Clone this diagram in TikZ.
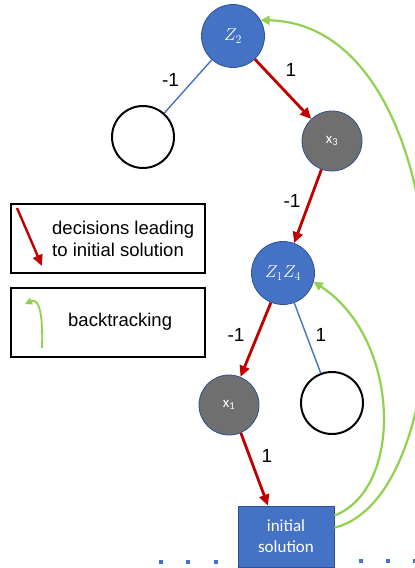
\documentclass[tikz,border=0pt]{standalone}
\usepackage{fontspec}
\setmainfont{Liberation Sans}
\newfontfamily\calib{Carlito}
\usetikzlibrary{arrows.meta,calc}
\definecolor{nblue}{HTML}{4472C4}
\definecolor{nedge}{HTML}{2F528F}
\definecolor{ngray}{HTML}{6F6F6F}
\definecolor{dred}{HTML}{C00000}
\definecolor{lgreen}{HTML}{92D050}
\tikzset{
 bluenode/.style={circle,fill=nblue,draw=nedge,line width=0.8pt,minimum size=63pt,inner sep=0pt,text=white,font=\fontsize{17}{19}\selectfont},
 graynode/.style={circle,fill=ngray,draw=nedge,line width=0.8pt,minimum size=60pt,inner sep=0pt,text=white,font=\calib\fontsize{15}{17}\selectfont},
 emptynode/.style={circle,fill=white,draw=black,line width=2pt,minimum size=62pt,inner sep=0pt},
 redarrow/.style={draw=dred,line width=2.8pt,-{Triangle[length=11pt,width=10pt]}},
 blueline/.style={draw=nblue,line width=1.4pt},
 greenarrow/.style={draw=lgreen,line width=2.2pt,-{Triangle[length=9pt,width=9pt]}},
 elabel/.style={font=\fontsize{19}{22}\selectfont,text=black,inner sep=0pt},
 legendbox/.style={draw=black,line width=2.2pt,fill=white,inner sep=0pt},
 dotsq/.style={fill=nblue,minimum size=4.5pt,inner sep=0pt},
}
\begin{document}
\begin{tikzpicture}[x=1pt,y=-1pt]
\clip (0,0) rectangle (415,568);
\fill[white] (0,0) rectangle (415,568);
% legend
\node[legendbox,minimum width=194pt,minimum height=69pt] (leg1) at (108,238.5) {};
\node[legendbox,minimum width=194pt,minimum height=69pt] (leg2) at (108,322.5) {};
\coordinate (r1) at (17,208);
\coordinate (r2) at (42,266);
\draw[redarrow,line width=2.4pt] (r1) -- (r2);
\node[anchor=west,align=left,font=\fontsize{18.5}{22.5}\selectfont,inner sep=0pt] (legt1) at (52,239) {decisions leading\\to initial solution};
\coordinate (g1) at (42,348);
\coordinate (g2) at (25,304);
\draw[greenarrow,line width=1.8pt,-{Triangle[length=7pt,width=7pt]}] (g1) .. controls (43,318) and (40,297) .. (g2);
\node[anchor=west,font=\fontsize{18.5}{22}\selectfont,inner sep=0pt] (legt2) at (68,322) {backtracking};
% tree nodes
\node[bluenode] (z2) at (233,36) {$Z_2$};
\node[emptynode] (e1) at (143,137) {};
\node[graynode] (x3) at (332,141) {x\textsubscript{3}};
\node[bluenode] (zz) at (283,273) {$Z_1Z_4$};
\node[graynode] (x1) at (229,405) {x\textsubscript{1}};
\node[emptynode] (e2) at (332,403) {};
\node[fill=nblue,draw=nedge,line width=0.8pt,minimum width=96pt,minimum height=61pt,text=white,align=center,font=\calib\fontsize{17}{21}\selectfont,inner sep=0pt] (init) at (286,536.5) {initial\\solution};
% edges
\draw[blueline] (z2) -- (e1);
\draw[redarrow] (z2) -- (x3);
\draw[redarrow] (x3) -- (zz);
\draw[redarrow] (zz) -- (x1);
\draw[blueline] (zz) -- (e2);
\draw[redarrow] (x1.-67) -- ($(init.north)+(-18,0)$);
% edge labels
\node[elabel] (l1) at (170.5,80) {-1};
\node[elabel] (l2) at (291,70) {1};
\node[elabel] (l3) at (292,201) {-1};
\node[elabel] (l4) at (236,335) {-1};
\node[elabel] (l5) at (321,335) {1};
\node[elabel] (l6) at (267,456) {1};
% backtracking curves
\draw[greenarrow] ($(init.north east)+(0,10)$) .. controls (405,488) and (400,338) .. (zz.-16);
\draw[greenarrow] ($(init.north east)+(0,22)$) .. controls (470,495) and (466,25) .. (z2.30);
% dots
\node[dotsq] (d1) at (161,562) {};
\node[dotsq] (d2) at (188,562) {};
\node[dotsq] (d3) at (216,562) {};
\node[dotsq] (d4) at (361,561) {};
\node[dotsq] (d5) at (388,561) {};
\node[dotsq] (d6) at (415,561) {};
\end{tikzpicture}
\end{document}
